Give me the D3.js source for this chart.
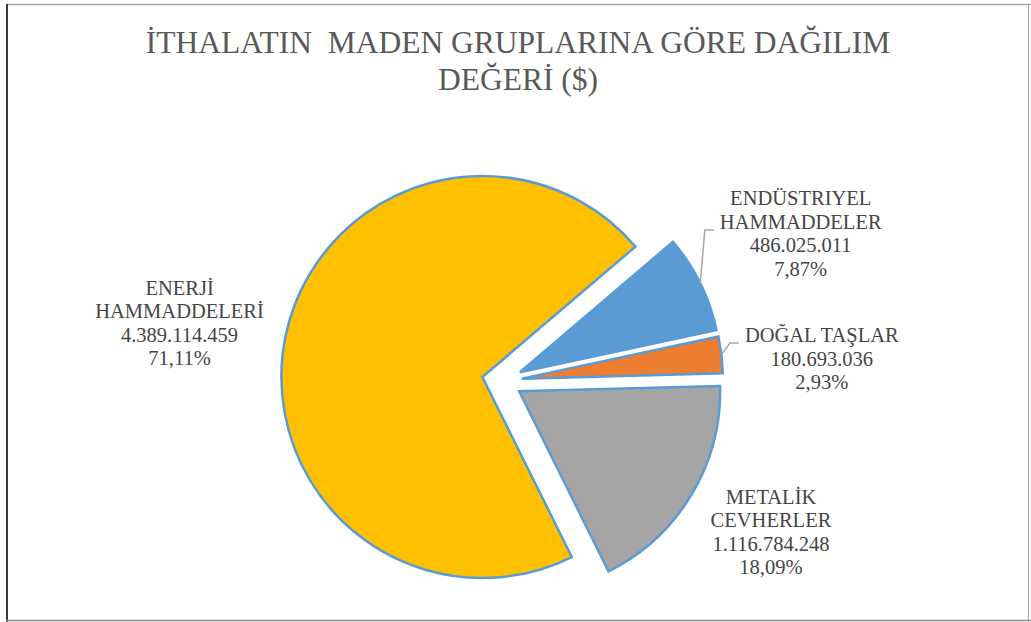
<!DOCTYPE html>
<html>
<head>
<meta charset="utf-8">
<script src="https://cdn.jsdelivr.net/npm/d3@7"></script>
<style>
  body { margin: 0; background: #fff; }
  svg { display: block; }
</style>
</head>
<body>
<div id="chart"></div>
<script>
// data
var titleLines = ["İTHALATIN  MADEN GRUPLARINA GÖRE DAĞILIM", "DEĞERİ ($)"];
var categories = [["ENERJİ", "HAMMADDELERİ"], ["ENDÜSTRIYEL", "HAMMADDELER"], ["DOĞAL TAŞLAR"], ["METALİK", "CEVHERLER"]];
var values = [4389114459, 486025011, 180693036, 1116784248];
var colors = ["#FFC000", "#5B9BD5", "#ED7D31", "#A5A5A5"];

// label layout: angle offset from slice bisector (deg), distance as radius factor, leader line
var labelAngleOff = [-1.4, 0, 2.8, -1.7];
var labelDist = [1.63, 1.657, 1.595, 1.535];
var hasLeader = [false, true, true, false];

var width = 1031, height = 622;
var cx = 502, cy = 381, radius = 201, explode = 20;
var lineH = 23.5;
var serif = "'Liberation Serif', 'Times New Roman', serif";

var trLocale = d3.formatLocale({decimal: ",", thousands: ".", grouping: [3], currency: ["", "$"]});
var fmtNum = trLocale.format(",d");
var fmtPct = trLocale.format(".2%");

var svg = d3.select("#chart").append("svg")
    .attr("width", width)
    .attr("height", height);

// frame
svg.append("line").attr("x1", 6).attr("x2", width).attr("y1", 4.5).attr("y2", 4.5)
    .attr("stroke", "#a6a6a6").attr("stroke-width", 1.5);
svg.append("line").attr("x1", 7).attr("x2", 7).attr("y1", 4).attr("y2", height)
    .attr("stroke", "#3a3a3a").attr("stroke-width", 2);
svg.append("line").attr("x1", 6).attr("x2", width).attr("y1", 620.5).attr("y2", 620.5)
    .attr("stroke", "#8c8c8c").attr("stroke-width", 1.5);
svg.append("line").attr("x1", 1028.5).attr("x2", 1028.5).attr("y1", 4).attr("y2", height)
    .attr("stroke", "#a6a6a6").attr("stroke-width", 1);

// title
svg.append("text")
    .attr("text-anchor", "middle")
    .attr("font-family", serif)
    .attr("font-size", 31.5)
    .attr("fill", "#595959")
    .attr("xml:space", "preserve")
    .selectAll("tspan")
    .data(titleLines)
    .enter().append("tspan")
    .attr("x", 518)
    .attr("y", function(d, i) { return 53 + i * 37; })
    .text(function(d) { return d; });

var total = d3.sum(values);
var start = 153.6 * Math.PI / 180;
var pie = d3.pie().sort(null).value(function(d) { return d; })
    .startAngle(start).endAngle(start + 2 * Math.PI);
var arcs = pie(values);
var arc = d3.arc().innerRadius(0).outerRadius(radius);
var mid = function(d) { return (d.startAngle + d.endAngle) / 2; };
var offset = function(d) {
    var a = mid(d);
    return [cx + explode * Math.sin(a), cy - explode * Math.cos(a)];
};

// slices
svg.append("g").selectAll("path")
    .data(arcs)
    .enter().append("path")
    .attr("transform", function(d) { var o = offset(d); return "translate(" + o[0] + "," + o[1] + ")"; })
    .attr("d", arc)
    .attr("fill", function(d, i) { return colors[i]; })
    .attr("stroke", "#5B9BD5")
    .attr("stroke-width", 2.5);

// labels
arcs.forEach(function(d, i) {
    var a = mid(d) + labelAngleOff[i] * Math.PI / 180;
    var r = radius * labelDist[i];
    var lx = cx + r * Math.sin(a), ly = cy - r * Math.cos(a);
    var lines = categories[i].concat([fmtNum(values[i]), fmtPct(values[i] / total)]);
    var firstBase = ly - (lines.length - 1) * lineH / 2 + 7;

    var spans = svg.append("text")
        .attr("text-anchor", "middle")
        .attr("font-family", serif)
        .attr("font-size", 20.5)
        .attr("fill", "#454545")
        .selectAll("tspan")
        .data(lines)
        .enter().append("tspan")
        .attr("x", lx)
        .attr("y", function(s, k) { return firstBase + k * lineH; })
        .text(function(s) { return s; });

    if (hasLeader[i]) {
        // leader goes to the widest line of the label
        var bw = -1, bk = 0;
        spans.each(function(s, k) {
            var w = this.getComputedTextLength();
            if (w > bw) { bw = w; bk = k; }
        });
        var left = lx - bw / 2;
        var ky = firstBase + bk * lineH + 1;
        var o = offset(d), am = mid(d);
        var px = o[0] + radius * Math.sin(am), py = o[1] - radius * Math.cos(am);
        svg.append("polyline")
            .attr("points", [[px, py], [left - 15, ky], [left - 6, ky]].map(function(p) { return p.join(","); }).join(" "))
            .attr("fill", "none")
            .attr("stroke", "#a6a6a6")
            .attr("stroke-width", 1.5);
    }
});
</script>
</body>
</html>
